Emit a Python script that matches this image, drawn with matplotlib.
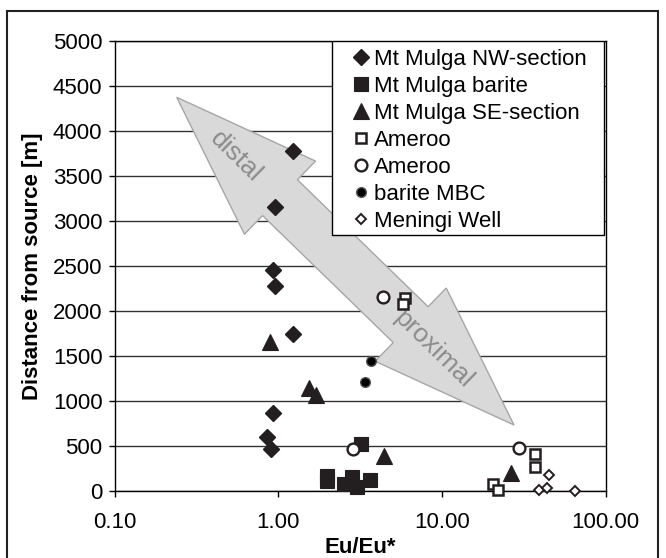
import matplotlib
matplotlib.use("Agg")
import matplotlib.pyplot as plt
from matplotlib.patches import Polygon, Rectangle
from matplotlib.lines import Line2D
import numpy as np

plt.rcParams['font.family'] = ['Liberation Sans', 'DejaVu Sans']

# data
nw_x = [1.22, 0.96, 0.93, 0.96, 1.23, 0.93, 0.85, 0.90]
nw_y = [3780, 3160, 2460, 2280, 1750, 870, 600, 470]

barite_x = [1.99, 1.99, 2.53, 2.81, 3.02, 3.62, 3.21]
barite_y = [170, 110, 80, 160, 50, 120, 520]

se_x = [0.89, 1.54, 1.70, 4.39, 26.5]
se_y = [1660, 1140, 1070, 390, 200]

amsq_x = [5.9, 5.8, 20.5, 22.0, 37.0, 37.0]
amsq_y = [2140, 2080, 80, 10, 410, 270]

amci_x = [4.38, 2.85, 29.6]
amci_y = [2160, 470, 480]

mbc_x = [3.69, 3.36]
mbc_y = [1450, 1210]

men_x = [45.0, 39.0, 43.5, 65.0]
men_y = [180, 15, 30, 5]

xticks = [0.1, 1, 10, 100]
xticklabels = ['0.10', '1.00', '10.00', '100.00']
yticks = list(range(0, 5001, 500))

dark = '#231f20'
W, H = 666, 558

fig = plt.figure(figsize=(W / 100, H / 100), dpi=100)
ax = fig.add_axes([114.7 / W, 1 - 491 / H, 491 / W, 450 / H])

ax.set_xscale('log')
ax.set_xlim(0.1, 100)
ax.set_ylim(0, 5000)
ax.set_xticks(xticks)
ax.set_xticklabels(xticklabels)
ax.xaxis.set_minor_locator(matplotlib.ticker.NullLocator())
ax.set_yticks(yticks)
ax.tick_params(axis='both', direction='out', length=4.3, width=1, labelsize=16, colors='black')
ax.tick_params(axis='x', pad=10.5)
ax.tick_params(axis='y', pad=4.5)
for s in ax.spines.values():
    s.set_linewidth(1)
    s.set_color('black')
ax.yaxis.grid(True, color='#333333', linewidth=1, zorder=1)
ax.set_axisbelow(True)

ax.set_xlabel('Eu/Eu*', fontsize=16, fontweight='bold', labelpad=3)
ax.set_ylabel('Distance from source [m]', fontsize=16, fontweight='bold', labelpad=7)

# double headed block arrow (pixel coords of the image, y down)
def block_arrow(p0, p1, shaft, head, head_len):
    p0 = np.array(p0, float)
    p1 = np.array(p1, float)
    u = (p1 - p0) / np.linalg.norm(p1 - p0)
    n = np.array([-u[1], u[0]])
    a = p0 + head_len * u
    b = p1 - head_len * u
    pts = [p0, a + head * n, a + shaft * n, b + shaft * n, b + head * n, p1,
           b - head * n, b - shaft * n, a - shaft * n, a - head * n]
    return [(x / W, 1 - y / H) for x, y in pts]

arrow = Polygon(block_arrow((176.7, 97.3), (514, 425), 25, 51, 144),
                closed=True, facecolor='#d9d9d9', edgecolor='#a6a6a6',
                linewidth=1, transform=fig.transFigure, zorder=2)
ax.add_patch(arrow)
ax.text(236 / W, 1 - 157 / H, 'distal', transform=fig.transFigure, rotation=-44.3,
        rotation_mode='anchor', ha='center', va='center', fontsize=19,
        color='#8c8c8c', zorder=2.1)
ax.text(433 / W, 1 - 349 / H, 'proximal', transform=fig.transFigure, rotation=-44.3,
        rotation_mode='anchor', ha='center', va='center', fontsize=19,
        color='#8c8c8c', zorder=2.1)

styles = [
    ('Mt Mulga NW-section', nw_x, nw_y, dict(marker='D', ms=8, mfc=dark, mec=dark, mew=1)),
    ('Mt Mulga barite', barite_x, barite_y, dict(marker='s', ms=9.5, mfc=dark, mec=dark, mew=0.8)),
    ('Mt Mulga SE-section', se_x, se_y, dict(marker='^', ms=11, mfc=dark, mec=dark, mew=0.8)),
    ('Ameroo', amsq_x, amsq_y, dict(marker='s', ms=7, mfc='white', mec=dark, mew=1.8)),
    ('Ameroo', amci_x, amci_y, dict(marker='o', ms=8.5, mfc='white', mec=dark, mew=1.7)),
    ('barite MBC', mbc_x, mbc_y, dict(marker='o', ms=7, mfc='black', mec='#555555', mew=1)),
    ('Meningi Well', men_x, men_y, dict(marker='D', ms=5, mfc='white', mec=dark, mew=1.4)),
]

handles = []
for label, xs, ys, st in styles:
    ax.plot(xs, ys, linestyle='none', zorder=3, clip_on=False, **st)
    handles.append(Line2D([], [], linestyle='none', label=label, **st))

# legend box
ax.add_patch(Rectangle(((332 - 114.7) / 491, (491 - 235) / 450),
                       (604 - 332) / 491, (235 - 41) / 450,
                       transform=ax.transAxes, facecolor='white',
                       edgecolor='black', linewidth=1, zorder=4))
leg = ax.legend(handles=handles, loc='upper left',
                bbox_to_anchor=(352 / W, 1 - 49 / H), bbox_transform=fig.transFigure,
                frameon=False, fontsize=16, handlelength=0.85, handletextpad=0.15,
                labelspacing=0.27, borderpad=0, borderaxespad=0)
leg.set_zorder(5)

# outer border of the figure
fig.add_artist(Rectangle((6.5 / W, -0.01), (658 - 6.5) / W, 1 - 11 / H + 0.01,
                         transform=fig.transFigure, fill=False,
                         edgecolor='#222222', linewidth=1.5))

fig.savefig('out.png', dpi=100)
